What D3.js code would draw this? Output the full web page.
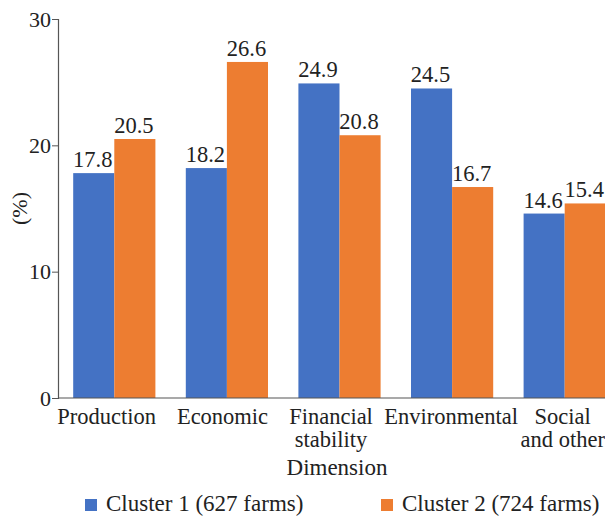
<!DOCTYPE html>
<html>
<head>
<meta charset="utf-8">
<script src="https://cdn.jsdelivr.net/npm/d3@7"></script>
<style>
  body { margin: 0; background: #fff; }
  svg text { font-family: 'Liberation Serif', 'DejaVu Serif', 'Times New Roman', serif !important; fill: #222; }
</style>
</head>
<body>
<div id="chart"></div>
<script>
const categories = [["Production"], ["Economic"], ["Financial", "stability"], ["Environmental"], ["Social", "and other"]];
const cluster1 = [17.8, 18.2, 24.9, 24.5, 14.6];
const cluster2 = [20.5, 26.6, 20.8, 16.7, 15.4];
const seriesNames = ["Cluster 1 (627 farms)", "Cluster 2 (724 farms)"];
const yTicks = [0, 10, 20, 30];

const colors = ["#4472c4", "#ed7d31"];
const width = 605, height = 516;
const margin = { top: 19, left: 58, bottom: 118 };
const plotRight = 621; // chart runs off the right edge in the original
const serif = "'Liberation Serif', 'DejaVu Serif', serif";
// labels in the original are not quite centred under their bars
const labelShift = [-7.6, -4.4, -8.5, -1, -2];

const svg = d3.select("#chart").append("svg")
  .attr("width", width)
  .attr("height", height)
  .attr("font-family", serif);

const x = d3.scaleBand()
  .domain(d3.range(categories.length))
  .range([margin.left, plotRight])
  .paddingInner(0.27)
  .paddingOuter(0.135);

const xSub = d3.scaleBand()
  .domain([0, 1])
  .range([0, x.bandwidth()]);

const y = d3.scaleLinear()
  .domain([0, 30])
  .range([height - margin.bottom, margin.top]);

// bars
const series = [cluster1, cluster2];
series.forEach((vals, s) => {
  svg.append("g").selectAll("rect")
    .data(vals)
    .join("rect")
    .attr("x", (d, i) => x(i) + xSub(s))
    .attr("y", d => y(d))
    .attr("width", xSub.bandwidth())
    .attr("height", d => y(0) - y(d))
    .attr("fill", colors[s]);

  svg.append("g").selectAll("text")
    .data(vals)
    .join("text")
    .attr("x", (d, i) => x(i) + xSub(s) + xSub.bandwidth() / 2 - 1)
    .attr("y", d => y(d) - 6)
    .attr("text-anchor", "middle")
    .attr("font-size", 22.5)
    .text(d => d.toFixed(1));
});

// y axis
const yAxis = svg.append("g")
  .attr("transform", `translate(${margin.left},0)`)
  .call(d3.axisLeft(y).tickValues(yTicks).tickSize(6).tickPadding(1));
yAxis.select(".domain").attr("stroke", "#555").attr("stroke-width", 1.2);
yAxis.selectAll(".tick line").attr("stroke", "#555");
yAxis.selectAll(".tick text").attr("font-size", 22).attr("fill", "#222");

// x axis line
svg.append("line")
  .attr("x1", margin.left).attr("x2", width)
  .attr("y1", y(0)).attr("y2", y(0))
  .attr("stroke", "#555").attr("stroke-width", 1.2);

// category labels, one text per line
const catG = svg.append("g").selectAll("g")
  .data(categories)
  .join("g")
  .attr("transform", (d, i) => `translate(${x(i) + x.bandwidth() / 2 + labelShift[i]},${y(0) + 26})`);
catG.selectAll("text")
  .data(d => d)
  .join("text")
  .attr("y", (d, i) => i * 23)
  .attr("text-anchor", "middle")
  .attr("font-size", 22.5)
  .text(d => d);

// axis titles
svg.append("text")
  .attr("x", 337).attr("y", 475)
  .attr("text-anchor", "middle")
  .attr("font-size", 23)
  .text("Dimension");

svg.append("text")
  .attr("transform", `translate(27,${y(15)}) rotate(-90)`)
  .attr("text-anchor", "middle")
  .attr("font-size", 22)
  .text("(%)");

// legend
const legendX = [85, 381];
const legend = svg.append("g").selectAll("g")
  .data(seriesNames)
  .join("g")
  .attr("transform", (d, i) => `translate(${legendX[i]},499)`);
legend.append("rect")
  .attr("width", 12).attr("height", 12)
  .attr("fill", (d, i) => colors[i]);
legend.append("text")
  .attr("x", 21).attr("y", 12)
  .attr("font-size", 23)
  .text(d => d);
</script>
</body>
</html>
